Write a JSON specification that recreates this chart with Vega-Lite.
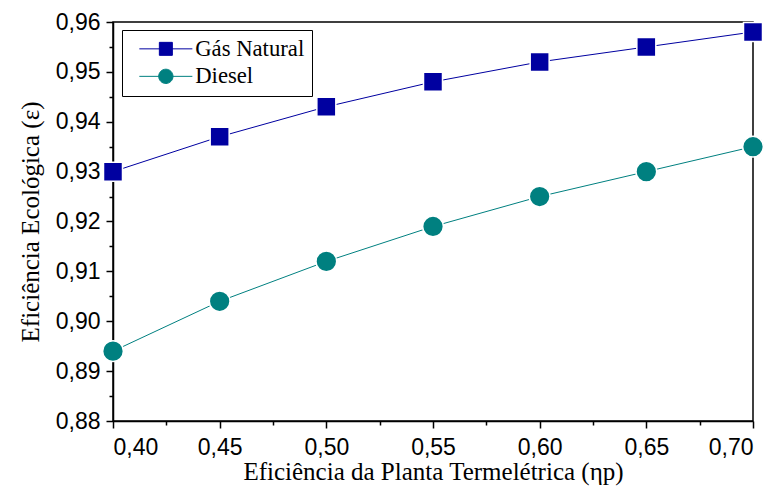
{
  "$schema": "https://vega.github.io/schema/vega-lite/v6.json",
  "width": 640,
  "height": 399,
  "autosize": "none",
  "padding": {"left": 113, "top": 22, "right": 24, "bottom": 79},
  "background": "white",
  "config": {
    "view": {"stroke": "black", "strokeWidth": 1.5},
    "axis": {
      "labelFont": "Liberation Sans",
      "labelFontSize": 23,
      "labelColor": "black",
      "titleFont": "Liberation Serif",
      "titleFontSize": 25,
      "titleFontWeight": "normal",
      "titleColor": "black",
      "domainColor": "black",
      "domainWidth": 1.5,
      "tickColor": "black",
      "tickWidth": 1.5,
      "grid": false
    }
  },
  "data": {
    "values": [
      {"x": 0.40, "y": 0.930, "serie": "Gás Natural"},
      {"x": 0.45, "y": 0.937, "serie": "Gás Natural"},
      {"x": 0.50, "y": 0.943, "serie": "Gás Natural"},
      {"x": 0.55, "y": 0.948, "serie": "Gás Natural"},
      {"x": 0.60, "y": 0.952, "serie": "Gás Natural"},
      {"x": 0.65, "y": 0.955, "serie": "Gás Natural"},
      {"x": 0.70, "y": 0.958, "serie": "Gás Natural"},
      {"x": 0.40, "y": 0.894, "serie": "Diesel"},
      {"x": 0.45, "y": 0.904, "serie": "Diesel"},
      {"x": 0.50, "y": 0.912, "serie": "Diesel"},
      {"x": 0.55, "y": 0.919, "serie": "Diesel"},
      {"x": 0.60, "y": 0.925, "serie": "Diesel"},
      {"x": 0.65, "y": 0.930, "serie": "Diesel"},
      {"x": 0.70, "y": 0.935, "serie": "Diesel"}
    ]
  },
  "layer": [
    {
      "mark": {"type": "line", "strokeWidth": 1, "clip": false},
      "encoding": {
        "x": {
          "field": "x", "type": "quantitative",
          "scale": {"domain": [0.4, 0.7], "nice": false, "zero": false},
          "axis": {
            "orient": "bottom",
            "values": [0.4, 0.45, 0.5, 0.55, 0.6, 0.65, 0.7],
            "labelExpr": "replace(format(datum.value, '.2f'), '.', ',')",
            "tickSize": 7,
            "labelPadding": 8,
            "title": "Eficiência da Planta Termelétrica (ηp)",
            "titleBaseline": "alphabetic",
            "titleY": 58
          }
        },
        "y": {
          "field": "y", "type": "quantitative",
          "scale": {"domain": [0.88, 0.96], "nice": false, "zero": false},
          "axis": {
            "orient": "left",
            "values": [0.88, 0.89, 0.9, 0.91, 0.92, 0.93, 0.94, 0.95, 0.96],
            "labelExpr": "replace(format(datum.value, '.2f'), '.', ',')",
            "tickSize": 7,
            "labelPadding": 6,
            "title": "Eficiência Ecológica (ε)",
            "titleBaseline": "alphabetic",
            "titleX": -75
          }
        },
        "color": {
          "field": "serie", "type": "nominal",
          "scale": {"domain": ["Gás Natural", "Diesel"], "range": ["#0000A0", "#008080"]},
          "legend": {
            "title": null,
            "orient": "none",
            "legendX": 9,
            "legendY": 8,
            "padding": 7.5,
            "strokeColor": "black",
            "fillColor": "white",
            "labelFont": "Liberation Serif",
            "labelFontSize": 22.7,
            "labelColor": "black",
            "symbolSize": 169,
            "symbolOffset": 25,
            "labelOffset": 18,
            "rowPadding": 3.5,
            "symbolStrokeWidth": 1,
            "symbolOpacity": 1,
            "encode": {
              "symbols": {
                "update": {
                  "shape": {"signal": "datum.value === 'Gás Natural' ? 'M-4.08,0H4.08M-1,-1H1V1H-1Z' : 'M-4.08,0H4.08M1.1,0A1.1,1.1,0,1,1,-1.1,0A1.1,1.1,0,1,1,1.1,0Z'"},
                  "fill": {"signal": "datum.value === 'Gás Natural' ? '#0000A0' : '#008080'"},
                  "stroke": {"signal": "datum.value === 'Gás Natural' ? '#0000A0' : '#008080'"}
                }
              }
            }
          }
        }
      }
    },
    {
      "transform": [{"filter": "datum.serie === 'Gás Natural'"}],
      "mark": {"type": "point", "shape": "square", "size": 361, "filled": true, "color": "#0000A0", "opacity": 1, "stroke": "white", "strokeWidth": 1.5, "clip": false},
      "encoding": {
        "x": {"field": "x", "type": "quantitative", "axis": null},
        "y": {"field": "y", "type": "quantitative", "axis": null}
      }
    },
    {
      "transform": [{"filter": "datum.serie === 'Diesel'"}],
      "mark": {"type": "point", "shape": "circle", "size": 430, "filled": true, "color": "#008080", "opacity": 1, "stroke": "white", "strokeWidth": 1.5, "clip": false},
      "encoding": {
        "x": {"field": "x", "type": "quantitative", "axis": null},
        "y": {"field": "y", "type": "quantitative", "axis": null}
      }
    },
    {
      "mark": {"type": "point", "opacity": 0},
      "encoding": {
        "x": {
          "field": "x", "type": "quantitative",
          "axis": {
            "orient": "bottom",
            "values": [0.425, 0.475, 0.525, 0.575, 0.625, 0.675],
            "labels": false, "domain": false, "tickSize": 4, "title": null
          }
        },
        "y": {
          "field": "y", "type": "quantitative",
          "axis": {
            "orient": "left",
            "values": [0.885, 0.895, 0.905, 0.915, 0.925, 0.935, 0.945, 0.955],
            "labels": false, "domain": false, "tickSize": 4, "title": null
          }
        }
      }
    }
  ],
  "resolve": {"axis": {"x": "independent", "y": "independent"}}
}
